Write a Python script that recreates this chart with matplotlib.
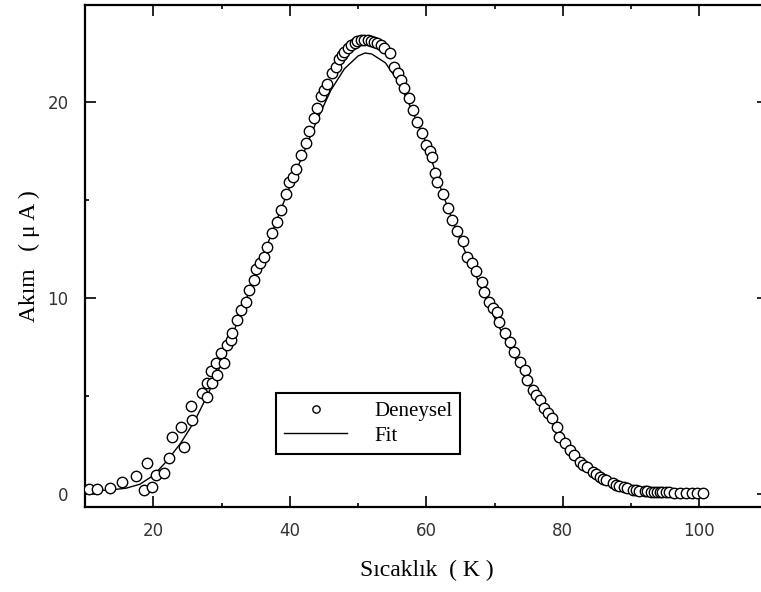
import matplotlib
matplotlib.use("Agg")
import matplotlib.pyplot as plt
from matplotlib.ticker import MultipleLocator

# Experimental data (Deneysel)
T_exp = [10.5, 11.7, 13.7, 15.4, 17.4, 18.6, 19.0, 19.8, 20.4, 21.5, 22.3, 22.7,
         24.0, 24.5, 25.5, 25.6, 27.1, 27.8, 27.8, 28.4, 28.6, 29.2, 29.3, 29.9,
         30.3, 30.8, 31.4, 31.5, 32.2, 32.8, 33.6, 34.0, 34.7, 35.0, 35.6, 36.2, 36.7,
         37.4, 38.1, 38.7, 39.4, 39.9, 40.4, 40.9, 41.6, 42.4, 42.8, 43.6, 44.0, 44.6,
         45.0, 45.5, 46.2, 46.7, 47.2, 47.6, 48.0, 48.5, 49.0, 49.5, 49.9, 50.4, 50.9,
         51.4, 51.9, 52.3, 52.8, 53.3, 53.8, 54.6, 55.3,
         55.8, 56.3, 56.7, 57.5, 58.0, 58.7, 59.4, 60.0, 60.5, 60.9, 61.2, 61.6, 62.4, 63.1,
         63.8, 64.5, 65.3, 66.0, 66.7, 67.3, 68.1, 68.5, 69.2, 69.8, 70.3, 70.7, 71.5, 72.2,
         72.9, 73.7, 74.4, 74.8, 75.6, 76.1, 76.6, 77.3, 77.9, 78.4, 79.1, 79.5, 80.3, 81.0,
         81.7, 82.5, 83.0, 83.5, 84.4, 84.9, 85.4, 85.9, 86.4, 87.3, 87.8, 88.3, 88.9, 89.4, 90.3, 90.8, 91.2, 92.0,
         92.4, 92.9, 93.4, 93.8, 94.2, 94.6, 95.1, 95.5, 96.3, 97.2, 98.0, 98.9, 99.7, 100.5]
I_exp = [0.26, 0.26, 0.31, 0.61, 0.92, 0.20, 1.58, 0.36, 0.97, 1.07, 1.84, 2.90,
         3.40, 2.40, 4.50, 3.80, 5.15, 5.66, 4.95, 6.30, 5.66, 6.70, 6.07, 7.20,
         6.70, 7.60, 7.86, 8.20, 8.88, 9.39, 9.80, 10.4, 10.9, 11.5, 11.8, 12.1, 12.6,
         13.3, 13.9, 14.5, 15.3, 15.9, 16.2, 16.6, 17.3, 17.9, 18.5, 19.2, 19.7, 20.3,
         20.6, 20.9, 21.5, 21.8, 22.2, 22.4, 22.55, 22.75, 22.9, 23.0, 23.1, 23.15, 23.15,
         23.15, 23.1, 23.05, 23.0, 22.9, 22.75, 22.5, 21.8,
         21.5, 21.1, 20.7, 20.2, 19.6, 19.0, 18.4, 17.8, 17.5, 17.2, 16.4, 15.9, 15.3, 14.6,
         14.0, 13.4, 12.9, 12.1, 11.8, 11.4, 10.8, 10.3, 9.8, 9.5, 9.3, 8.78, 8.2, 7.76,
         7.24, 6.73, 6.33, 5.8, 5.3, 5.05, 4.8, 4.4, 4.15, 3.9, 3.4, 2.9, 2.6, 2.24,
         2.0, 1.63, 1.5, 1.38, 1.12, 1.0, 0.87, 0.79, 0.71, 0.56, 0.48, 0.41, 0.36, 0.31, 0.20, 0.19, 0.17, 0.15,
         0.14, 0.12, 0.11, 0.10, 0.10, 0.10, 0.09, 0.08, 0.07, 0.06, 0.06, 0.05, 0.05, 0.05]

# Fit curve
T_fit = [10, 12, 14, 16, 18, 20, 22, 24, 26, 28, 30, 32, 34, 36, 38, 40, 42, 44,
         46, 48, 50, 51, 52, 54, 56, 58, 60, 62, 64, 66, 68, 70, 72, 74, 76, 78,
         80, 82, 84, 86, 88, 90, 92, 94, 96, 98, 100]
I_fit = [0.15, 0.18, 0.22, 0.30, 0.50, 0.95, 1.70, 2.60, 3.70, 5.10, 6.70, 8.50,
         10.3, 12.1, 13.9, 15.7, 17.4, 19.1, 20.6, 21.7, 22.35, 22.5, 22.45, 22.0,
         21.0, 19.5, 17.9, 15.7, 13.8, 12.1, 10.6, 9.0, 7.6, 6.3, 5.0, 3.9,
         2.85, 2.0, 1.35, 0.85, 0.55, 0.35, 0.22, 0.15, 0.10, 0.08, 0.06]

x_ticks = [20, 40, 60, 80, 100]
y_ticks = [0, 10, 20]

W, H = 761, 592
fig = plt.figure(figsize=(W / 100, H / 100), dpi=100)
left, right = 85.2 / W, (154.6 + 90 * 6.81) / W
bottom, top = (H - 507) / H, (H - 5) / H
ax = fig.add_axes([left, bottom, right - left, top - bottom])

ax.plot(T_fit, I_fit, color="black", lw=1.0, label="Fit", zorder=2)
ax.plot(T_exp, I_exp, linestyle="none", marker="o", markersize=7.5,
        markerfacecolor="white", markeredgecolor="black", markeredgewidth=1.0,
        label="Deneysel", zorder=3)

ax.set_xlim(10, 110)
ax.set_ylim(-0.66, 24.95)
ax.set_xticks(x_ticks)
ax.set_yticks(y_ticks)
ax.xaxis.set_minor_locator(MultipleLocator(10))
ax.yaxis.set_minor_locator(MultipleLocator(5))
ax.tick_params(which="both", direction="in", top=True, right=True, width=1.2,
               colors="black", labelcolor="#333333", labelsize=12)
ax.tick_params(which="major", length=8)
ax.tick_params(which="minor", length=3)
ax.tick_params(axis="x", pad=11)
ax.tick_params(axis="y", pad=12)
for lab in ax.get_xticklabels() + ax.get_yticklabels():
    lab.set_family("DejaVu Sans")
for s in ax.spines.values():
    s.set_linewidth(1.6)

ax.set_xlabel("Sıcaklık  ( K )", family="Liberation Serif", fontsize=17, labelpad=14)
ax.set_ylabel("Akım   ( μ A )", family="Liberation Serif", fontsize=17, labelpad=5)

h, l = ax.get_legend_handles_labels()
leg = ax.legend(h[::-1], l[::-1], loc="upper left",
                bbox_to_anchor=((276 - 85.2) / (right * W - 85.2), 1 - (393 - 5) / 502),
                frameon=True, fancybox=False, edgecolor="black", framealpha=1,
                prop={"family": "Liberation Serif", "size": 15},
                handlelength=3.0, handletextpad=1.3, borderpad=0.4, labelspacing=0.25,
                borderaxespad=0, markerscale=0.7)
leg.get_frame().set_linewidth(1.5)

fig.savefig("out.png", dpi=100)
